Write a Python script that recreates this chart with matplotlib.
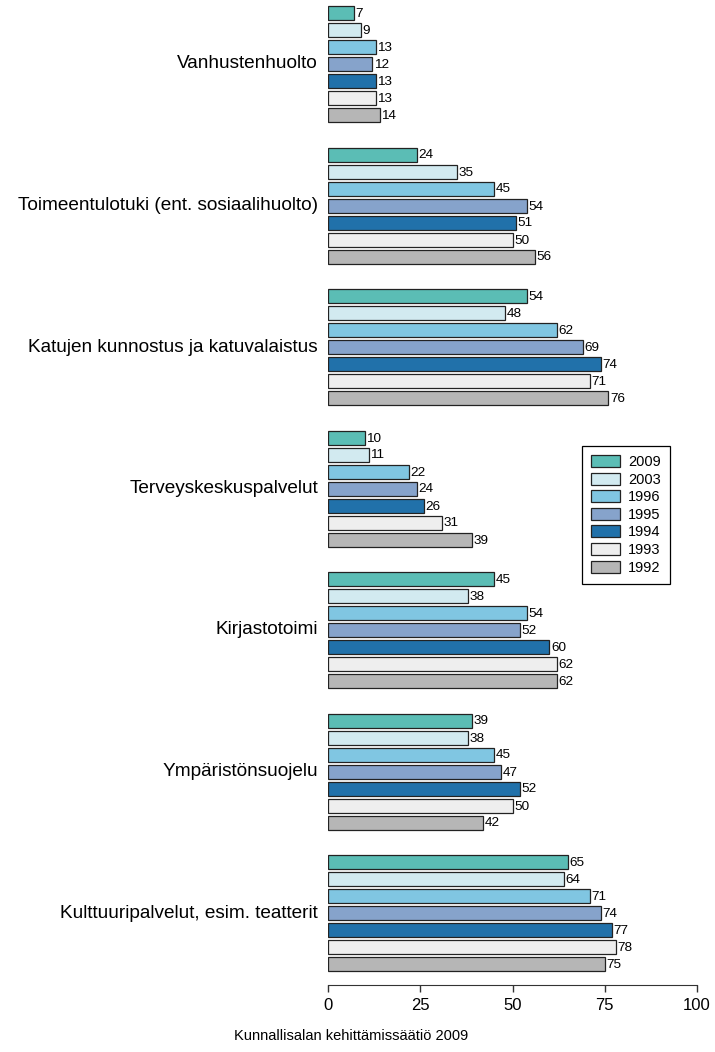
import matplotlib
matplotlib.use("Agg")
import matplotlib.pyplot as plt
from matplotlib.patches import Patch
from matplotlib.transforms import offset_copy

plt.rcParams['font.family'] = ['Liberation Sans', 'DejaVu Sans']

categories = ["Vanhustenhuolto",
              "Toimeentulotuki (ent. sosiaalihuolto)",
              "Katujen kunnostus ja katuvalaistus",
              "Terveyskeskuspalvelut",
              "Kirjastotoimi",
              "Ympäristönsuojelu",
              "Kulttuuripalvelut, esim. teatterit"]
years = ["2009", "2003", "1996", "1995", "1994", "1993", "1992"]
values = [
    [7, 9, 13, 12, 13, 13, 14],
    [24, 35, 45, 54, 51, 50, 56],
    [54, 48, 62, 69, 74, 71, 76],
    [10, 11, 22, 24, 26, 31, 39],
    [45, 38, 54, 52, 60, 62, 62],
    [39, 38, 45, 47, 52, 50, 42],
    [65, 64, 71, 74, 77, 78, 75],
]
colors = ["#5BBDB5", "#D2EAF0", "#80C6E2", "#86A3CB", "#2171AA", "#EEEEEE", "#B6B6B6"]
xticks = [0, 25, 50, 75, 100]
caption = "Kunnallisalan kehittämissäätiö 2009"

W, H = 715, 1052
fig = plt.figure(figsize=(W / 100, H / 100), dpi=100)
ax_left, ax_right = 328, 697
ax_top, ax_bottom = 0, 985
ax = fig.add_axes([ax_left / W, (H - ax_bottom) / H, (ax_right - ax_left) / W, (ax_bottom - ax_top) / H])

group_pitch = 141.5
bar_pitch = 17
bar_h = 14
first_top = 6

for g, cat in enumerate(categories):
    for i, yr in enumerate(years):
        top = first_top + g * group_pitch + i * bar_pitch
        yc = top + bar_h / 2
        v = values[g][i]
        ax.barh(yc, v, height=bar_h, color=colors[i], edgecolor="#222222", linewidth=0.9)
        ax.text(v + 0.4, yc + 1, str(v), ha="left", va="center", fontsize=9.7, color="black")
    gc = first_top + g * group_pitch + (7 * bar_pitch - (bar_pitch - bar_h)) / 2
    ax.text(0, gc, cat, ha="right", va="center", fontsize=13.7,
            transform=offset_copy(ax.transData, fig=fig, x=-10, y=0, units="dots"))

ax.set_xlim(0, 100)
ax.set_ylim(ax_bottom - ax_top, 0)
for s in ["left", "top", "right"]:
    ax.spines[s].set_visible(False)
ax.spines["bottom"].set_bounds(0, 100)
ax.spines["bottom"].set_color("#333333")
ax.set_yticks([])
ax.set_xticks(xticks)
ax.set_xticklabels([str(t) for t in xticks], fontsize=12)
ax.tick_params(axis="x", length=5, width=1, color="#333333", pad=4)

handles = [Patch(facecolor=c, edgecolor="#222222", linewidth=0.9) for c in colors]
leg = fig.legend(handles, years, loc="upper left",
                 bbox_to_anchor=(582 / W, 1 - 446 / H), borderaxespad=0,
                 fontsize=10.5, handlelength=2.0, handleheight=0.9,
                 labelspacing=0.24, handletextpad=0.55, borderpad=0.62,
                 fancybox=False, edgecolor="black", framealpha=1)
leg.get_frame().set_linewidth(0.9)

fig.text(351 / W, 1 - 1036 / H, caption, ha="center", va="center", fontsize=10.5)

fig.savefig("out.png", dpi=100)
